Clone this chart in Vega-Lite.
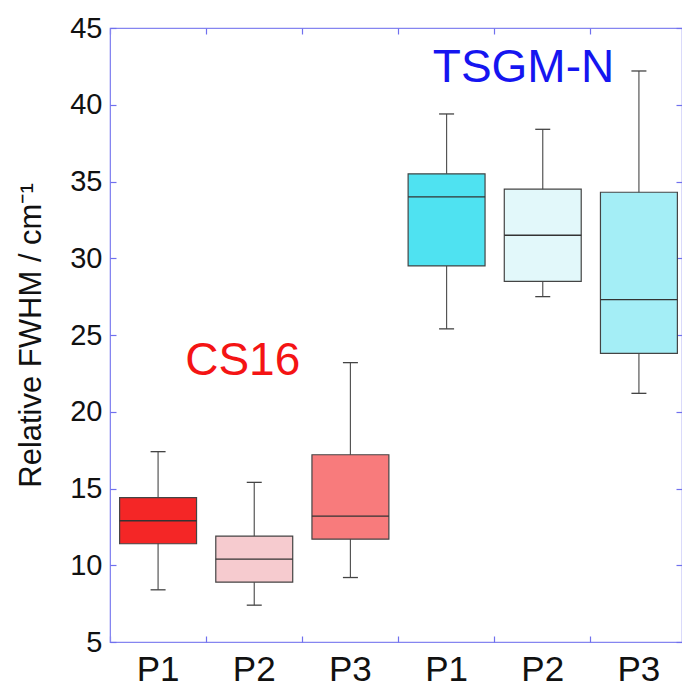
{
  "$schema": "https://vega.github.io/schema/vega-lite/v6.json",
  "autosize": "none",
  "padding": {"left": 110, "top": 28, "right": 0, "bottom": 44},
  "width": 572,
  "height": 614,
  "background": "white",
  "config": {
    "font": "Liberation Sans",
    "view": {"stroke": "#8585f0", "strokeWidth": 1.2},
    "axis": {"domainColor": "#8585f0", "tickColor": "#7070ee", "tickWidth": 1.2, "grid": false, "labelColor": "#111", "titleColor": "#111", "labelFont": "Liberation Sans", "titleFont": "Liberation Sans", "titleFontWeight": "normal"}
  },
  "datasets": {
    "boxes": [
      {"id": "CS16 P1", "lo": 8.4, "q1": 11.4, "med": 12.9, "q3": 14.4, "hi": 17.4},
      {"id": "CS16 P2", "lo": 7.4, "q1": 8.9, "med": 10.4, "q3": 11.9, "hi": 15.4},
      {"id": "CS16 P3", "lo": 9.2, "q1": 11.7, "med": 13.2, "q3": 17.2, "hi": 23.2},
      {"id": "TSGM-N P1", "lo": 25.4, "q1": 29.5, "med": 34.0, "q3": 35.5, "hi": 39.4},
      {"id": "TSGM-N P2", "lo": 27.5, "q1": 28.5, "med": 31.5, "q3": 34.5, "hi": 38.4},
      {"id": "TSGM-N P3", "lo": 21.2, "q1": 23.8, "med": 27.3, "q3": 34.3, "hi": 42.2}
    ],
    "labels": [
      {"label": "CS16", "x": 1.88, "y": 22.4},
      {"label": "TSGM-N", "x": 4.8, "y": 41.5}
    ]
  },
  "layer": [
    {
      "data": {"name": "boxes"},
      "mark": {"type": "rule", "stroke": "#555", "strokeWidth": 1.2},
      "encoding": {
        "x": {"field": "id", "type": "nominal", "sort": null,
              "scale": {"paddingInner": 0, "paddingOuter": 0, "range": [0, 577]},
              "axis": {"orient": "bottom", "ticks": false, "labelExpr": "substring(datum.label, length(datum.label) - 2)", "labelFontSize": 35, "labelPadding": 10, "labelAngle": 0, "title": null}},
        "y": {"field": "lo", "type": "quantitative",
              "scale": {"domain": [5, 45], "nice": false, "zero": false},
              "axis": {"orient": "left", "values": [5, 10, 15, 20, 25, 30, 35, 40, 45], "ticks": false, "labelPadding": 8, "labelFontSize": 29, "title": "Relative FWHM / cm⁻¹", "titleFontSize": 31, "titlePadding": 22}},
        "y2": {"field": "hi"}
      }
    },
    {
      "data": {"name": "boxes"},
      "mark": {"type": "bar", "stroke": "#444", "strokeWidth": 1.2, "width": {"band": 0.8}},
      "encoding": {
        "x": {"field": "id", "type": "nominal", "sort": null,
              "scale": {"paddingInner": 0, "paddingOuter": 0, "range": [0, 577]},
              "axis": {"orient": "bottom", "offset": -614, "bandPosition": 0, "ticks": true, "tickSize": 6, "labels": false, "domain": false, "title": null}},
        "y": {"field": "q1", "type": "quantitative",
              "axis": {"orient": "right", "offset": -572, "values": [5, 10, 15, 20, 25, 30, 35, 40, 45], "ticks": true, "tickSize": 6, "labels": false, "domain": false, "title": null}},
        "y2": {"field": "q3"},
        "fill": {"field": "id", "type": "nominal", "sort": null, "legend": null,
                 "scale": {"range": ["#f42626", "#f6cbcf", "#f87b7c", "#4fe2f1", "#e2f8fa", "#a4eef6"]}}
      }
    },
    {
      "data": {"name": "boxes"},
      "mark": {"type": "tick", "color": "#333", "thickness": 1.3, "size": 77, "opacity": 1},
      "encoding": {
        "x": {"field": "id", "type": "nominal", "sort": null,
              "scale": {"paddingInner": 0, "paddingOuter": 0, "range": [0, 577]},
              "axis": {"orient": "top", "offset": -614, "bandPosition": 0, "ticks": true, "tickSize": 6, "labels": false, "domain": false, "title": null}},
        "y": {"field": "med", "type": "quantitative",
              "axis": {"orient": "left", "offset": -572, "values": [5, 10, 15, 20, 25, 30, 35, 40, 45], "ticks": true, "tickSize": 6, "labels": false, "domain": false, "title": null}}
      }
    },
    {
      "data": {"name": "boxes"},
      "mark": {"type": "tick", "color": "#444", "thickness": 1.3, "size": 15, "opacity": 1},
      "encoding": {
        "x": {"field": "id", "type": "nominal", "sort": null,
              "scale": {"paddingInner": 0, "paddingOuter": 0, "range": [0, 577]}, "axis": null},
        "y": {"field": "hi", "type": "quantitative", "axis": null}
      }
    },
    {
      "data": {"name": "boxes"},
      "mark": {"type": "tick", "color": "#444", "thickness": 1.3, "size": 15, "opacity": 1},
      "encoding": {
        "x": {"field": "id", "type": "nominal", "sort": null,
              "scale": {"paddingInner": 0, "paddingOuter": 0, "range": [0, 577]}, "axis": null},
        "y": {"field": "lo", "type": "quantitative", "axis": null}
      }
    },
    {
      "data": {"name": "labels"},
      "mark": {"type": "text", "font": "Liberation Sans", "fontSize": 46, "baseline": "alphabetic", "align": "center"},
      "encoding": {
        "x": {"field": "x", "type": "quantitative", "scale": {"domain": [0.5, 6.5], "range": [0, 577], "nice": false, "zero": false}, "axis": null},
        "y": {"field": "y", "type": "quantitative", "axis": null},
        "text": {"field": "label"},
        "color": {"field": "label", "type": "nominal", "legend": null,
                  "scale": {"domain": ["CS16", "TSGM-N"], "range": ["#f41414", "#1515f0"]}}
      }
    }
  ],
  "resolve": {"scale": {"x": "independent"}, "axis": {"x": "independent", "y": "independent"}}
}
